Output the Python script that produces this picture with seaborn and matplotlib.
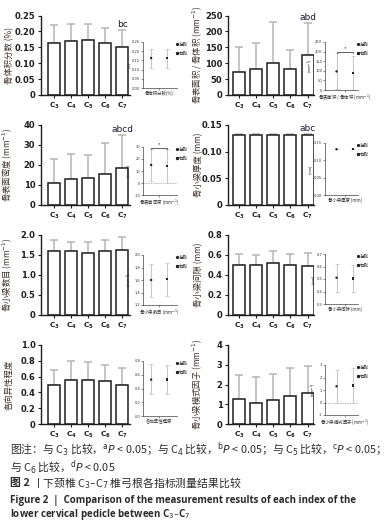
import matplotlib
matplotlib.use('Agg')
import matplotlib.pyplot as plt
import seaborn as sns
import numpy as np
import pandas as pd
from matplotlib.lines import Line2D

sns.set_theme(style='ticks')
plt.rcParams['font.family'] = ['Noto Sans CJK SC', 'DejaVu Sans']
plt.rcParams['axes.unicode_minus'] = False

cats = ['C3', 'C4', 'C5', 'C6', 'C7']
cat_labels = [r'$\mathbf{C_3}$', r'$\mathbf{C_4}$', r'$\mathbf{C_5}$',
              r'$\mathbf{C_6}$', r'$\mathbf{C_7}$']
sides = ['左侧', '右侧']

# 各指标均值与误差上端
bvtv_mean = [0.165, 0.170, 0.172, 0.165, 0.152]
bvtv_up = [0.220, 0.223, 0.223, 0.212, 0.205]
bsbv_mean = [72, 81, 100, 82, 127]
bsbv_up = [152, 163, 228, 140, 225]
bstv_mean = [11.0, 13.0, 13.5, 15.3, 18.7]
bstv_up = [23.0, 25.5, 24.8, 30.8, 35.0]
tbth_mean = [0.132, 0.132, 0.132, 0.132, 0.132]
tbth_up = [0.133, 0.133, 0.133, 0.133, 0.133]
tbn_mean = [1.60, 1.59, 1.55, 1.60, 1.63]
tbn_up = [1.87, 1.83, 1.83, 1.87, 1.95]
tbsp_mean = [0.50, 0.505, 0.525, 0.50, 0.495]
tbsp_up = [0.61, 0.60, 0.64, 0.61, 0.62]
da_mean = [0.49, 0.56, 0.56, 0.54, 0.50]
da_up = [0.68, 0.80, 0.79, 0.75, 0.71]
tbpf_mean = [1.27, 1.05, 1.22, 1.40, 1.58]
tbpf_up = [2.48, 2.40, 2.53, 2.82, 2.93]

# 左右侧比较（均值, 下端, 上端）
bvtv_side = ([0.163, 0.163], [0.110, 0.110], [0.210, 0.210])
bsbv_side = ([97, 88], [5, 0], [192, 178])
bstv_side = ([15.0, 14.0], [1.5, 0.0], [28.0, 28.0])
tbth_side = ([0.132, 0.132], [0.132, 0.132], [0.133, 0.133])
tbn_side = ([1.60, 1.62], [1.33, 1.35], [1.86, 1.88])
tbsp_side = ([0.51, 0.505], [0.40, 0.40], [0.62, 0.61])
da_side = ([0.53, 0.53], [0.32, 0.32], [0.75, 0.74])
tbpf_side = ([1.30, 1.35], [0.0, 0.0], [2.60, 2.80])

panels = [
    dict(mean=bvtv_mean, up=bvtv_up, side=bvtv_side, ylabel='骨体积分数 (%)',
         yt=[0, 0.05, 0.10, 0.15, 0.20, 0.25], ytl=['0', '0.05', '0.10', '0.15', '0.20', '0.25'],
         ilabel='骨体积分数(%)', iylab='(%)', iyt=[0, 0.05, 0.10, 0.15, 0.20, 0.25],
         iytl=['0.00', '0.05', '0.10', '0.15', '0.20', '0.25'], note='bc', star=None, zero=False),
    dict(mean=bsbv_mean, up=bsbv_up, side=bsbv_side, ylabel='骨表面积 / 骨体积 (mm$^{-1}$)',
         yt=[0, 50, 100, 150, 200, 250], ytl=['0', '50', '100', '150', '200', '250'],
         ilabel='骨表面积 / 骨体积 (mm$^{-1}$)', iylab='(mm$^{-1}$)', iyt=[0, 50, 100, 150, 200, 250],
         iytl=['0', '50', '100', '150', '200', '250'], note='abd', star=200, zero=True),
    dict(mean=bstv_mean, up=bstv_up, side=bstv_side, ylabel='骨表面密度 (mm$^{-1}$)',
         yt=[0, 10, 20, 30, 40], ytl=['0', '10', '20', '30', '40'],
         ilabel='骨表面密度 (mm$^{-1}$)', iylab='(mm$^{-1}$)', iyt=[-10, 0, 10, 20, 30],
         iytl=['-10', '0', '10', '20', '30'], note='abcd', star=29.5, zero=True),
    dict(mean=tbth_mean, up=tbth_up, side=tbth_side, ylabel='骨小梁厚度 (mm)',
         yt=[0, 0.05, 0.10, 0.15], ytl=['0', '0.05', '0.10', '0.15'],
         ilabel='骨小梁厚度 (mm)', iylab='(mm)', iyt=[0, 0.05, 0.10, 0.15],
         iytl=['0.00', '0.05', '0.10', '0.15'], note='abc', star=None, zero=False),
    dict(mean=tbn_mean, up=tbn_up, side=tbn_side, ylabel='骨小梁数目 (mm$^{-1}$)',
         yt=[0, 0.5, 1.0, 1.5, 2.0], ytl=['0', '0.5', '1.0', '1.5', '2.0'],
         ilabel='骨小梁数目 (mm$^{-1}$)', iylab='(mm$^{-1}$)', iyt=[1.2, 1.4, 1.6, 1.8, 2.0],
         iytl=['1.2', '1.4', '1.6', '1.8', '2.0'], note=None, star=None, zero=False),
    dict(mean=tbsp_mean, up=tbsp_up, side=tbsp_side, ylabel='骨小梁间隙 (mm)',
         yt=[0, 0.2, 0.4, 0.6, 0.8], ytl=['0', '0.2', '0.4', '0.6', '0.8'],
         ilabel='骨小梁间隙 (mm)', iylab='(mm)', iyt=[0.3, 0.4, 0.5, 0.6, 0.7],
         iytl=['0.3', '0.4', '0.5', '0.6', '0.7'], note=None, star=None, zero=False),
    dict(mean=da_mean, up=da_up, side=da_side, ylabel='各向异性程度',
         yt=[0, 0.2, 0.4, 0.6, 0.8, 1.0], ytl=['0', '0.2', '0.4', '0.6', '0.8', '1.0'],
         ilabel='各向异性程度', iylab='', iyt=[0, 0.2, 0.4, 0.6, 0.8],
         iytl=['0.0', '0.2', '0.4', '0.6', '0.8'], note=None, star=None, zero=False),
    dict(mean=tbpf_mean, up=tbpf_up, side=tbpf_side, ylabel='骨小梁模式因子 (mm$^{-1}$)',
         yt=[0, 1, 2, 3, 4], ytl=['0', '1', '2', '3', '4'],
         ilabel='骨小梁模式因子 (mm$^{-1}$)', iylab='(mm$^{-1}$)', iyt=[-1, 0, 1, 2, 3],
         iytl=['-1', '0', '1', '2', '3'], note=None, star=None, zero=True),
]

W, H = 392, 528
fig = plt.figure(figsize=(W / 100, H / 100), dpi=100)


def box(x0, yt, x1, yb):
    return [x0 / W, 1 - yb / H, (x1 - x0) / W, (yb - yt) / H]


main_x = [(41, 130), (228, 313.5)]
main_xlim = [(-0.76, 4.45), (-0.65, 4.35)]
ylab_x = [-0.305, -0.285]
rows_y = [(15.5, 95), (125, 205), (235, 315), (345, 424)]
ins_x = [(143, 177), (325, 358)]
ins_xlim = [(-0.5, 1.6), (-0.7, 1.3)]
ins_y = [[(42, 88), (42, 90)], [(147, 195), (143, 195)],
         [(255, 305), (254, 304)], [(361, 416), (365, 415)]]

dark = '#1e1e1e'
grey = '#b5b5b5'

for i, p in enumerate(panels):
    r, c = divmod(i, 2)
    ax = fig.add_axes(box(main_x[c][0], rows_y[r][0], main_x[c][1], rows_y[r][1]))
    df = pd.DataFrame({'seg': cats, 'val': p['mean']})
    mean = np.array(p['mean'])
    up = np.array(p['up'])
    ax.errorbar(np.arange(5), mean, yerr=[np.zeros(5), up - mean], fmt='none',
                ecolor=grey, elinewidth=1.1, capsize=2.6, capthick=1.1, zorder=1)
    sns.barplot(data=df, x='seg', y='val', color='white', edgecolor=dark,
                linewidth=1.1, width=0.7, errorbar=None, ax=ax, zorder=2)
    for patch in ax.patches:
        patch.set_facecolor('white')
    ax.set_xlim(*main_xlim[c])
    ax.set_ylim(p['yt'][0], p['yt'][-1])
    ax.set_yticks(p['yt'])
    ax.set_yticklabels(p['ytl'], fontsize=6, fontweight='bold', family='DejaVu Sans')
    ax.set_xticks(range(5))
    ax.set_xticklabels(cat_labels, fontsize=5.3)
    ax.set_xlabel('')
    ax.set_ylabel(p['ylabel'], fontsize=6, color='#3a302c')
    ax.yaxis.set_label_coords(ylab_x[c], 0.5)
    ax.tick_params(axis='both', length=2.5, width=0.8, pad=1.5, colors=dark)
    for s in ['top', 'right']:
        ax.spines[s].set_visible(False)
    for s in ['left', 'bottom']:
        ax.spines[s].set_linewidth(1.0)
        ax.spines[s].set_color(dark)
    ax.patch.set_alpha(0)
    if p['note']:
        ax.text(4, p['up'][4] + (p['yt'][-1] - p['yt'][0]) * 0.015, p['note'],
                ha='center', va='bottom', fontsize=6.5, color='#1a1a2e',
                family='DejaVu Sans')

    # 左右侧小图
    iy = ins_y[r][c]
    ia = fig.add_axes(box(ins_x[c][0], iy[0], ins_x[c][1], iy[1]))
    sm, lo, hi = [np.array(v) for v in p['side']]
    pos = np.array([0, 1])
    ia.errorbar(pos, sm, yerr=[sm - lo, hi - sm], fmt='none', ecolor='#c8c8c8',
                elinewidth=0.8, capsize=1.2, capthick=0.6, zorder=1)
    sdf = pd.DataFrame({'x': pos, 'y': sm, 'side': sides})
    sns.scatterplot(data=sdf, x='x', y='y', style='side', markers=['o', 's'],
                    color='#222222', s=3, linewidth=0, legend=False, ax=ia, zorder=3)
    if p['zero']:
        ia.axhline(0, color='#999999', lw=0.5, ls=(0, (2, 1.5)), zorder=0)
    if p['star'] is not None:
        sy = p['star']
        rng = p['iyt'][-1] - p['iyt'][0]
        ia.plot([0, 0, 1, 1], [sy - rng * 0.03, sy, sy, sy - rng * 0.03],
                color='#222222', lw=0.5)
        ia.text(0.5, sy + rng * 0.005, '*', ha='center', va='bottom', fontsize=4,
                color='#222222')
    ia.set_xlim(*ins_xlim[c])
    ia.set_ylim(p['iyt'][0], p['iyt'][-1])
    ia.set_yticks(p['iyt'])
    ia.set_yticklabels(p['iytl'], fontsize=2.6, family='DejaVu Sans')
    ia.set_xticks([0.5])
    ia.set_xticklabels([p['ilabel']], fontsize=3.2)
    ia.set_xlabel('')
    ia.set_ylabel(p['iylab'], fontsize=2.6, labelpad=0.5)
    ia.tick_params(axis='both', length=1.2, width=0.4, pad=0.8, colors='#333333')
    for s in ['top', 'right']:
        ia.spines[s].set_visible(False)
    for s in ['left', 'bottom']:
        ia.spines[s].set_linewidth(0.5)
        ia.spines[s].set_color('#444444')
    ia.patch.set_alpha(0)
    handles = [Line2D([], [], ls='none', marker='o', ms=1.3, color='#222222'),
               Line2D([], [], ls='none', marker='s', ms=1.3, color='#222222')]
    ia.legend(handles, sides, loc='upper left', bbox_to_anchor=(0.97, 1.0), frameon=False,
              fontsize=3.2, handlelength=0.4, handletextpad=0.3, borderaxespad=0.0,
              labelspacing=0.9, borderpad=0)

# 图注
cap_col = '#2a2a2a'
fs = 7.8
fig.text(10 / W, 1 - 450 / H,
         r'图注：与 C$_3$ 比较，$^{\mathrm{a}}P$ < 0.05；与 C$_4$ 比较，$^{\mathrm{b}}P$ < 0.05；与 C$_5$ 比较，$^{\mathrm{c}}P$ < 0.05；',
         fontsize=fs, color=cap_col, va='center', ha='left')
fig.text(10 / W, 1 - 466.5 / H, r'与 C$_6$ 比较，$^{\mathrm{d}}P$ < 0.05',
         fontsize=fs, color=cap_col, va='center', ha='left')
t = fig.text(10 / W, 1 - 483 / H, '图 2 ', fontsize=fs, color=cap_col, va='center',
             ha='left', fontweight='bold')
fig.canvas.draw()
bb = t.get_window_extent()
fig.text(bb.x1 / W, 1 - 483 / H, r'丨下颈椎 C$_3$–C$_7$ 椎弓根各指标测量结果比较',
         fontsize=fs, color=cap_col, va='center', ha='left')
fig.text(10 / W, 1 - 500 / H,
         'Figure 2  |  Comparison of the measurement results of each index of the',
         fontsize=7.0, color=cap_col, va='center', ha='left', fontweight='bold',
         family='Open Sans')
fig.text(10 / W, 1 - 514 / H, r'lower cervical pedicle between C$_3$–C$_7$',
         fontsize=7.0, color=cap_col, va='center', ha='left', fontweight='bold',
         family='Open Sans')

fig.savefig('out.png', dpi=100)
